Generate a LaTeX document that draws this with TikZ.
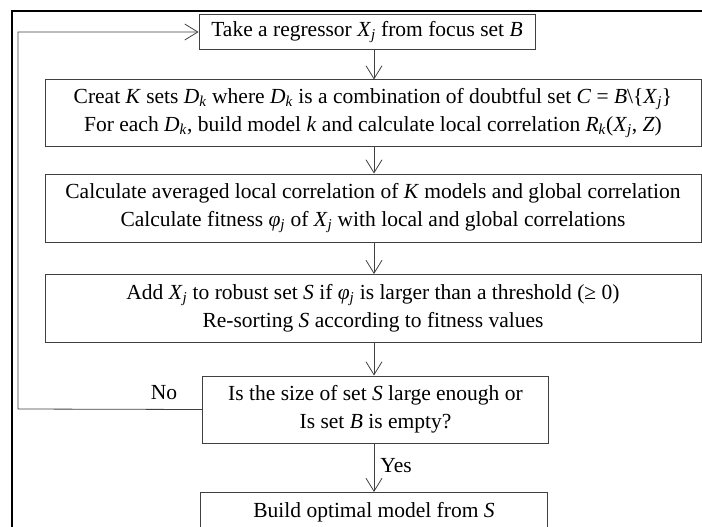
\documentclass[tikz,border=0pt]{standalone}
\usepackage{fontspec}
\setmainfont{Liberation Serif}
\usetikzlibrary{arrows.meta}
\newcommand\iv[1]{\textit{#1}}
\newcommand\sub[1]{\textsubscript{\iv{#1}}}
\tikzset{
  box/.style={draw=black!75, line width=1pt, fill=white, inner sep=0pt, align=center,
              font=\fontsize{21.5}{28}\selectfont},
  flow/.style={draw=black!75, line width=0.8pt, -{Straight Barb[length=13pt,width=16pt,line width=0.8pt]}},
  lbl/.style={font=\fontsize{21.5}{24}\selectfont, inner sep=0pt},
}
\begin{document}
\begin{tikzpicture}[x=1pt,y=-1pt]
\useasboundingbox (0,0) rectangle (702,527);
\draw[line width=2pt] (12,540) -- (12,11) -- (710,11);
\node[box, minimum width=336pt, minimum height=35pt] (b1) at (367,32) {Take a regressor \iv{X}\sub{j} from focus set \iv{B}};
\node[box, minimum width=656pt, minimum height=66pt] (b2) at (373,113) {Creat \iv{K} sets \iv{D}\sub{k} where \iv{D}\sub{k} is a combination of doubtful set \iv{C} = \iv{B}\textbackslash\{\iv{X}\sub{j}\}\\For each \iv{D}\sub{k}, build model \iv{k} and calculate local correlation \iv{R}\sub{k}(\iv{X}\sub{j}, \iv{Z})};
\node[box, minimum width=656pt, minimum height=68pt] (b3) at (373,208) {Calculate averaged local correlation of \iv{K} models and global correlation\\Calculate fitness \iv{φ}\sub{j} of \iv{X}\sub{j} with local and global correlations};
\node[box, minimum width=656pt, minimum height=68pt] (b4) at (373,308.5) {Add \iv{X}\sub{j} to robust set \iv{S} if \iv{φ}\sub{j} is larger than a threshold (≥ 0)\\Re-sorting \iv{S} according to fitness values};
\node[box, minimum width=346pt, minimum height=67pt] (b5) at (375.5,409.5) {Is the size of set \iv{S} large enough or\\Is set \iv{B} is empty?};
\node[box, minimum width=347pt, minimum height=40pt] (b6) at (374,512.5) {Build optimal model from \iv{S}};
\coordinate (c1) at (374,0);
\draw[flow] (b1.south -| c1) -- (b2.north -| c1);
\draw[flow] (b2.south -| c1) -- (b3.north -| c1);
\draw[flow] (b3.south -| c1) -- (b4.north -| c1);
\draw[flow] (b4.south -| c1) -- (b5.north -| c1);
\draw[flow] (b5.south -| c1) -- node[lbl, right=6pt, pos=0.45] (yes) {Yes} (b6.north -| c1);
\coordinate (lb) at (18,409);
\coordinate (lt) at (18,32);
\draw[flow] (b5.west) -- (lb) -- (lt) -- (b1.west);
\node[lbl] (no) at (164,393) {No};
\end{tikzpicture}
\end{document}
